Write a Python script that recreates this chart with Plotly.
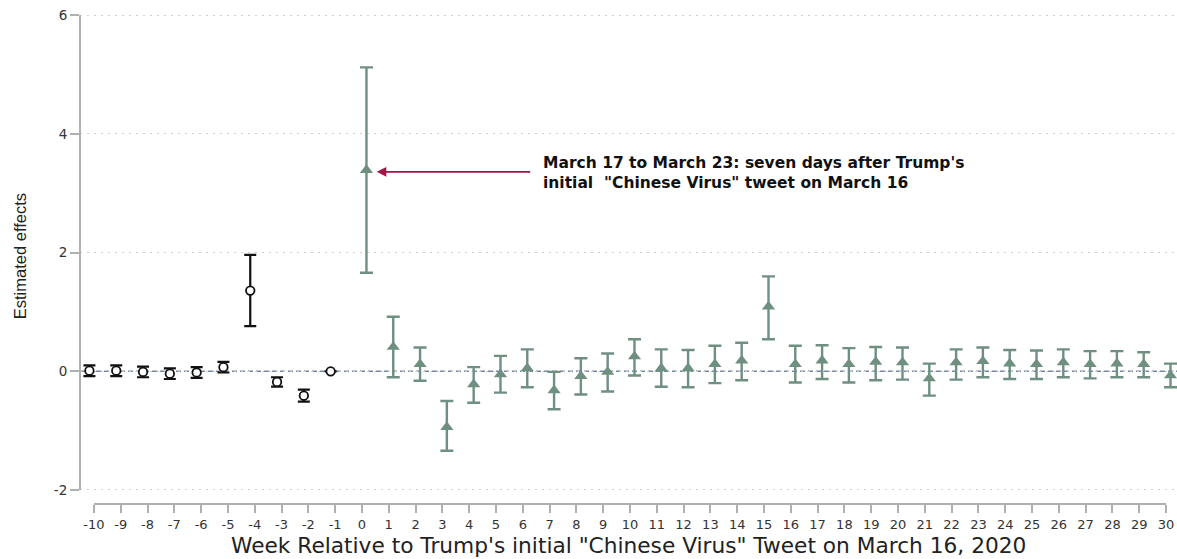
import plotly.graph_objects as go

# Event-study estimates: weeks relative to the first "Chinese Virus" tweet
pre_weeks = [-10, -9, -8, -7, -6, -5, -4, -3, -2, -1]
pre_est = [0.01, 0.01, -0.01, -0.04, -0.02, 0.07, 1.36, -0.18, -0.41, 0.0]
pre_lo = [-0.08, -0.08, -0.10, -0.13, -0.11, -0.02, 0.76, -0.26, -0.51, 0.0]
pre_hi = [0.10, 0.10, 0.08, 0.05, 0.07, 0.16, 1.96, -0.10, -0.31, 0.0]

post_weeks = list(range(0, 31))
post_est = [3.39, 0.41, 0.12, -0.94, -0.22, -0.05, 0.05, -0.32, -0.08, -0.01,
            0.25, 0.05, 0.05, 0.12, 0.18, 1.09, 0.12, 0.18, 0.12, 0.16,
            0.15, -0.12, 0.15, 0.17, 0.13, 0.12, 0.15, 0.12, 0.13, 0.12, -0.07]
post_lo = [1.66, -0.10, -0.16, -1.34, -0.53, -0.36, -0.27, -0.64, -0.39, -0.34,
           -0.07, -0.26, -0.27, -0.20, -0.15, 0.54, -0.19, -0.13, -0.19, -0.15,
           -0.14, -0.41, -0.14, -0.10, -0.13, -0.13, -0.10, -0.12, -0.10, -0.10, -0.27]
post_hi = [5.12, 0.92, 0.40, -0.50, 0.07, 0.26, 0.37, -0.01, 0.22, 0.30,
           0.54, 0.37, 0.36, 0.43, 0.48, 1.60, 0.43, 0.44, 0.39, 0.41,
           0.40, 0.13, 0.37, 0.40, 0.36, 0.35, 0.37, 0.34, 0.34, 0.32, 0.13]

x_ticks = list(range(-10, 31))
y_ticks = [-2, 0, 2, 4, 6]

GREEN = "#6f8f80"
BLACK = "#111111"
AXIS_GREY = "#b0b0b0"
FONT = "Liberation Sans, Arial, sans-serif"
WIDE = "DejaVu Sans, Verdana, sans-serif"

x_range = [-10.52, 30.41]
shift = 0.168  # the two series sit slightly either side of the tick marks

fig = go.Figure()

fig.add_trace(go.Scatter(
    x=pre_weeks, y=pre_est, mode="markers", xaxis="x2",
    error_y=dict(type="data", symmetric=False,
                 array=[h - e for h, e in zip(pre_hi, pre_est)],
                 arrayminus=[e - l for e, l in zip(pre_est, pre_lo)],
                 color=BLACK, thickness=2.2, width=6),
    marker=dict(symbol="circle", size=8.5, color="white",
                line=dict(color=BLACK, width=1.8)),
    showlegend=False, hoverinfo="x+y",
))

fig.add_trace(go.Scatter(
    x=post_weeks, y=post_est, mode="markers", xaxis="x3",
    error_y=dict(type="data", symmetric=False,
                 array=[h - e for h, e in zip(post_hi, post_est)],
                 arrayminus=[e - l for e, l in zip(post_est, post_lo)],
                 color=GREEN, thickness=2.4, width=6.5),
    marker=dict(symbol="triangle-up", size=11.5, color=GREEN),
    showlegend=False, hoverinfo="x+y",
))

# zero reference line
fig.add_shape(type="line", xref="paper", x0=0, x1=1, yref="y", y0=0, y1=0,
              line=dict(color="#7589a0", width=1.4, dash="5px,3px"), layer="below")
# axis lines limited to the data span
fig.add_shape(type="line", xref="paper", x0=0, x1=0, yref="y", y0=-2, y1=6,
              line=dict(color=AXIS_GREY, width=2))
fig.add_shape(type="line", xref="x", x0=-10, x1=30, yref="paper", y0=0, y1=0,
              line=dict(color=AXIS_GREY, width=2))

# callout for week 0
fig.add_annotation(x=0.55, y=3.36, xref="x", yref="y", text="",
                   showarrow=True, arrowhead=2, arrowsize=1.2, arrowwidth=1.6,
                   arrowcolor="#a3164a", ax=155, ay=0)
fig.add_annotation(x=6.67, y=3.345, xref="x", yref="y", xanchor="left", yanchor="middle",
                   align="left", showarrow=False,
                   text="<b>March 17 to March 23: seven days after Trump's<br>"
                        "initial&nbsp; \"Chinese Virus\" tweet on March 16</b>",
                   font=dict(family=WIDE, size=15.5, color="#111111"))

# axis titles
fig.add_annotation(x=0.5, y=-0.084, xref="paper", yref="paper", xanchor="center",
                   yanchor="middle", showarrow=False,
                   text="Week Relative to Trump's initial \"Chinese Virus\" Tweet on March 16, 2020",
                   font=dict(family=WIDE, size=21.7, color="#222222"))
fig.add_annotation(x=-0.055, y=0.505, xref="paper", yref="paper", xanchor="center",
                   yanchor="middle", showarrow=False, textangle=-90,
                   text="Estimated effects",
                   font=dict(family=FONT, size=16.5, color="#222222"))

fig.update_layout(
    width=1177, height=559, autosize=False,
    margin=dict(l=80, r=0, t=14, b=55),
    plot_bgcolor="white", paper_bgcolor="white",
    font=dict(family=WIDE, color="#333333"),
    xaxis=dict(range=x_range, tickvals=x_ticks, ticktext=[str(v) for v in x_ticks],
               showgrid=False, zeroline=False, showline=False,
               ticks="outside", ticklen=8, tickwidth=1.5, tickcolor=AXIS_GREY,
               tickfont=dict(family=WIDE, size=13, color="#333333")),
    xaxis2=dict(range=[x_range[0] + shift, x_range[1] + shift], overlaying="x",
                visible=False),
    xaxis3=dict(range=[x_range[0] - shift, x_range[1] - shift], overlaying="x",
                visible=False),
    yaxis=dict(range=[-2.236, 6.02], tickvals=y_ticks, ticktext=[str(v) for v in y_ticks],
               showgrid=True, gridcolor="#cfcfcf", gridwidth=1, griddash="2px,5px",
               zeroline=False, showline=False,
               ticks="outside", ticklen=9, tickwidth=1.5, tickcolor=AXIS_GREY,
               tickfont=dict(family=WIDE, size=13.5, color="#333333")),
)

fig.write_html("out.html")
